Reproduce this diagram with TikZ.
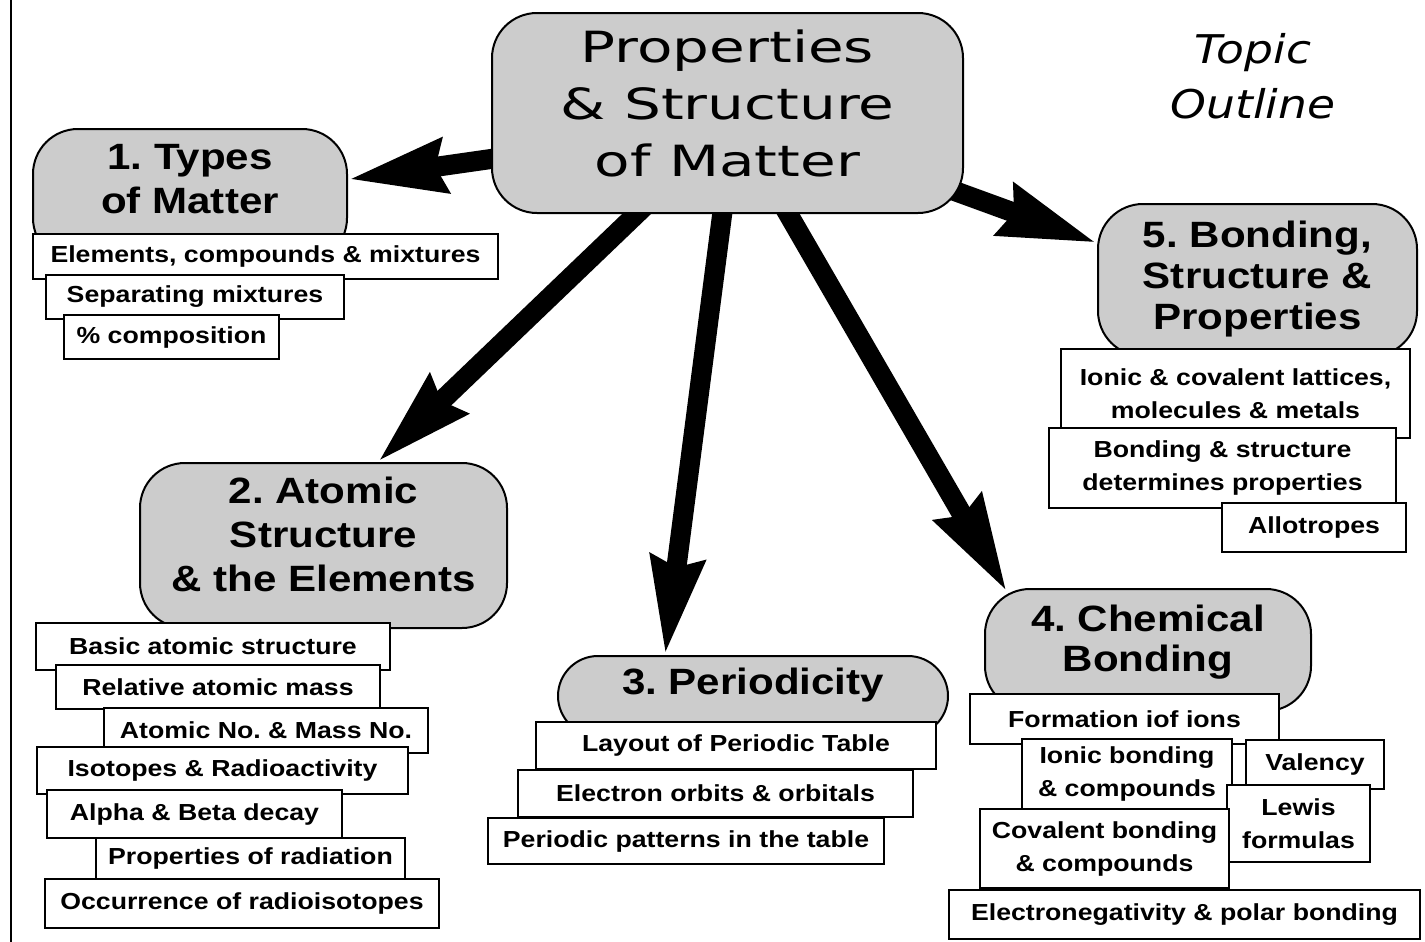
\documentclass[tikz,border=0pt]{standalone}
\usepackage{fontspec}
\usepackage{tikz}
\usetikzlibrary{arrows.meta,calc,backgrounds}
\newfontfamily\headfont[FakeStretch=1.35]{DejaVu Sans}
\newfontfamily\outlinefont[FakeStretch=1.15]{DejaVu Sans Oblique}
\newfontfamily\boxfont[FakeStretch=1.15]{Liberation Sans}
\definecolor{boxgray}{RGB}{204,204,204}
\newcommand\mainfnt{\headfont\fontsize{21.5}{28.5}\selectfont}
\newcommand\ttlfnt[1]{\boxfont\bfseries\fontsize{18.3}{#1}\selectfont}
\newcommand\subfnt{\boxfont\bfseries\fontsize{11.6}{16.5}\selectfont}
\frenchspacing

\begin{document}
\begin{tikzpicture}[
        x=0.5pt, y=-0.5pt,
        topicbox/.style={draw, line width=1pt, fill=boxgray, rounded corners=22.5pt,
            anchor=north, align=center, inner sep=4pt, font=\ttlfnt{22}},
        subbox/.style={draw, line width=1pt, fill=white, anchor=north west,
            align=center, inner sep=0pt, font=\subfnt},
        bigarrow/.style={line width=10pt, -{Stealth[length=48pt, width=26pt, inset=4pt]}}
    ]
        \useasboundingbox (0,0) rectangle (1425,942);
        \draw[line width=1pt] (11,0) -- (11,942);

        \node[topicbox, font=\mainfnt, minimum width=235.5pt, text height=77.5pt, text depth=14.5pt] (main) at (727.5,12) {Properties\\\& Structure\\of Matter};
        \node[font=\outlinefont\fontsize{19.8}{27.5}\selectfont, align=center, anchor=base] (outline) at (1253,118) {Topic\\Outline};

        % 1
        \node[topicbox, minimum width=157pt, text height=38pt, text depth=21pt] (t1) at (190,128) {1. Types\\of Matter};
        \node[subbox, minimum width=232.5pt, minimum height=22.5pt] (s11) at (32,233) {Elements, compounds \& mixtures};
        \node[subbox, minimum width=149pt, minimum height=22pt] (s12) at (45,274) {Separating mixtures};
        \node[subbox, minimum width=107.5pt, minimum height=22pt] (s13) at (63,314) {\% composition};

        % 2
        \node[topicbox, minimum width=183.5pt, text height=60pt, text depth=14.5pt] (t2) at (323.5,462) {2. Atomic\\Structure\\\& the Elements};
        \node[subbox, minimum width=177pt, minimum height=23.5pt] (s21) at (35,622) {Basic atomic structure};
        \node[subbox, minimum width=162pt, minimum height=22pt] (s22) at (55,664) {Relative atomic mass};
        \node[subbox, minimum width=162pt, minimum height=22.5pt] (s23) at (103,707) {Atomic No. \& Mass No.};
        \node[subbox, minimum width=185.5pt, minimum height=23.5pt] (s24) at (36,746) {Isotopes \& Radioactivity};
        \node[subbox, minimum width=147.5pt, minimum height=24pt] (s25) at (46,789) {Alpha \& Beta decay};
        \node[subbox, minimum width=154.5pt, minimum height=20.5pt] (s26) at (95,837) {Properties of radiation};
        \node[subbox, minimum width=197pt, minimum height=24.5pt] (s27) at (44,878) {Occurrence of radioisotopes};

        % 3
        \node[topicbox, rounded corners=20pt, minimum width=195pt, text height=15pt, text depth=17pt] (t3) at (753,655) {3. Periodicity};
        \node[subbox, minimum width=200pt, minimum height=23.5pt] (s31) at (535,721) {Layout of Periodic Table};
        \node[subbox, minimum width=197.5pt, minimum height=23.5pt] (s32) at (517,769) {Electron orbits \& orbitals};
        \node[subbox, minimum width=198pt, minimum height=23pt] (s33) at (487,817) {Periodic patterns in the table};

        % 4
        \node[topicbox, font=\ttlfnt{20}, minimum width=163pt, text height=37pt, text depth=16pt] (t4) at (1148,588) {4. Chemical\\Bonding};
        \node[subbox, minimum width=154.5pt, minimum height=25pt] (s41) at (969,693) {Formation iof ions};
        \node[subbox, minimum width=105pt, minimum height=35pt] (s42) at (1021,738) {Ionic bonding\\\& compounds};
        \node[subbox, minimum width=69pt, minimum height=24.5pt] (s43) at (1245,739) {Valency};
        \node[subbox, minimum width=71.5pt, minimum height=38.5pt] (s44) at (1226,784) {Lewis\\formulas};
        \node[subbox, minimum width=124.5pt, minimum height=39.5pt] (s45) at (979,808) {Covalent bonding\\\& compounds};
        \node[subbox, minimum width=235.5pt, minimum height=24.5pt] (s46) at (948,889) {Electronegativity \& polar bonding};

        % 5
        \node[topicbox, font=\ttlfnt{20.5}, minimum width=159.5pt, text height=58.5pt, text depth=9.5pt] (t5) at (1257.5,203) {5. Bonding,\\Structure \&\\Properties};
        \node[subbox, minimum width=174.5pt, minimum height=44.5pt] (s51) at (1060,348) {Ionic \& covalent lattices,\\molecules \& metals};
        \node[subbox, minimum width=173.5pt, minimum height=40pt] (s52) at (1048,427) {Bonding \& structure\\determines properties};
        \node[subbox, minimum width=92pt, minimum height=24.5pt] (s53) at (1221,502) {Allotropes};

        \begin{scope}[on background layer]
            \draw[bigarrow, shorten <=-8pt] (main.191) -- (t1.6);
            \draw[bigarrow, shorten <=-8pt] (main.228) -- (t2.57);
            \draw[bigarrow, shorten <=-8pt] (main.267) -- (t3.155);
            \draw[bigarrow, shorten <=-8pt] (main.301) -- ($(t4.north west)+(23,4)$);
            \draw[bigarrow, shorten <=-14pt] (main.341) -- (t5.167);
        \end{scope}
    \end{tikzpicture}
\end{document}
